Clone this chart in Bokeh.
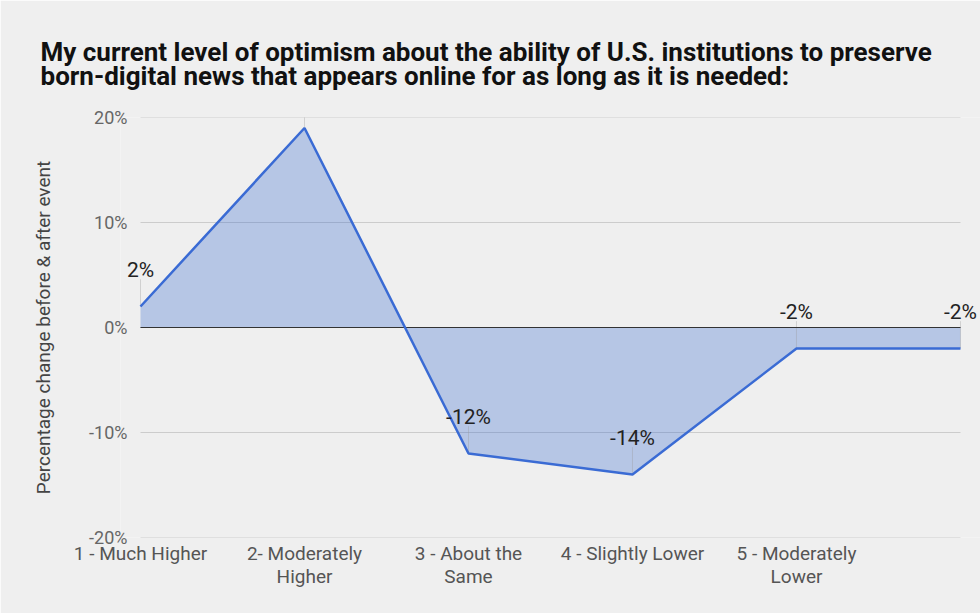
from bokeh.plotting import figure
from bokeh.models import Range1d, FixedTicker, PrintfTickFormatter, Title, ColumnDataSource
from bokeh.core.properties import value
from bokeh.embed import file_html
from bokeh.resources import INLINE

categories = ["1 - Much Higher", "2- Moderately\nHigher", "3 - About the\nSame",
              "4 - Slightly Lower", "5 - Moderately\nLower", ""]
values = [2, 19, -12, -14, -2, -2]
labels = ["2%", "19%", "-12%", "-14%", "-2%", "-2%"]
y_ticks = [-20, -10, 0, 10, 20]
title_lines = ["My current level of optimism about the ability of U.S. institutions to preserve",
               "born-digital news that appears online for as long as it is needed:"]
y_label = "Percentage change before & after event"

xs = list(range(len(values)))
src = ColumnDataSource(dict(x=xs, y=values, lab=labels, zero=[0] * len(values),
                            top=[v + 2.6 for v in values]))
grid_src = ColumnDataSource(dict(x0=[xs[0]] * len(y_ticks), x1=[xs[-1]] * len(y_ticks), y=y_ticks))

BG = "#efefef"
pad = 0.122  # a little room so end labels are not clipped
p = figure(width=980, height=613, output_backend="svg", toolbar_location=None,
           x_range=Range1d(xs[0] - pad, xs[-1] + pad), y_range=Range1d(-20, 20),
           min_border_left=120, min_border_right=0, min_border_top=117, min_border_bottom=76,
           background_fill_color=BG, border_fill_color=BG, outline_line_color=None)

# grid lines limited to the data span
p.segment(x0="x0", y0="y", x1="x1", y1="y", source=grid_src, line_color="#cccccc", line_width=1)
p.varea(x="x", y1="zero", y2="y", source=src, fill_color="#3366cc", fill_alpha=0.3)
p.segment(x0="x", y0="y", x1="x", y1="top", source=src, line_color="#999999", line_alpha=0.35, line_width=1)
p.segment(x0=[xs[0]], y0=[0], x1=[xs[-1]], y1=[0], line_color="#333333", line_width=1.2)
p.line(x="x", y="y", source=src, line_color="#3a6bd4", line_width=2.5)
p.text(x="x", y="y", text="lab", source=src, text_align="center", text_baseline="middle",
       y_offset=-37, text_font=value("Roboto"), text_font_size="21px", text_color="#222222")

# axes
p.yaxis.ticker = FixedTicker(ticks=y_ticks)
p.yaxis.formatter = PrintfTickFormatter(format="%d%%")
p.yaxis.axis_line_color = None
p.yaxis.major_tick_line_color = None
p.yaxis.minor_tick_line_color = None
p.yaxis.major_label_text_font = "Roboto"
p.yaxis.major_label_text_font_size = "18px"
p.yaxis.major_label_text_color = "#666666"
p.yaxis.major_label_standoff = -13
p.yaxis.axis_label = y_label
p.yaxis.axis_label_text_font = "Roboto"
p.yaxis.axis_label_text_font_size = "19px"
p.yaxis.axis_label_text_font_style = "normal"
p.yaxis.axis_label_text_color = "#444444"
p.yaxis.axis_label_standoff = 31

p.xaxis.ticker = FixedTicker(ticks=xs)
p.xaxis.major_label_overrides = {i: c for i, c in enumerate(categories)}
p.xaxis.axis_line_color = None
p.xaxis.major_tick_line_color = None
p.xaxis.minor_tick_line_color = None
p.xaxis.major_label_text_font = "Roboto"
p.xaxis.major_label_text_font_size = "19px"
p.xaxis.major_label_text_color = "#555555"
p.xaxis.major_label_text_line_height = 1.0
p.xaxis.major_label_standoff = -2

p.xgrid.grid_line_color = None
p.ygrid.grid_line_color = None

p.title = None
p.add_layout(Title(text="\n".join(title_lines), align="left", offset=-80, standoff=54,
                   text_font="Roboto", text_font_size="26px", text_font_style="bold",
                   text_line_height=0.8, text_color="#111111"), "above")

open("out.html", "w").write(file_html(p, INLINE))
